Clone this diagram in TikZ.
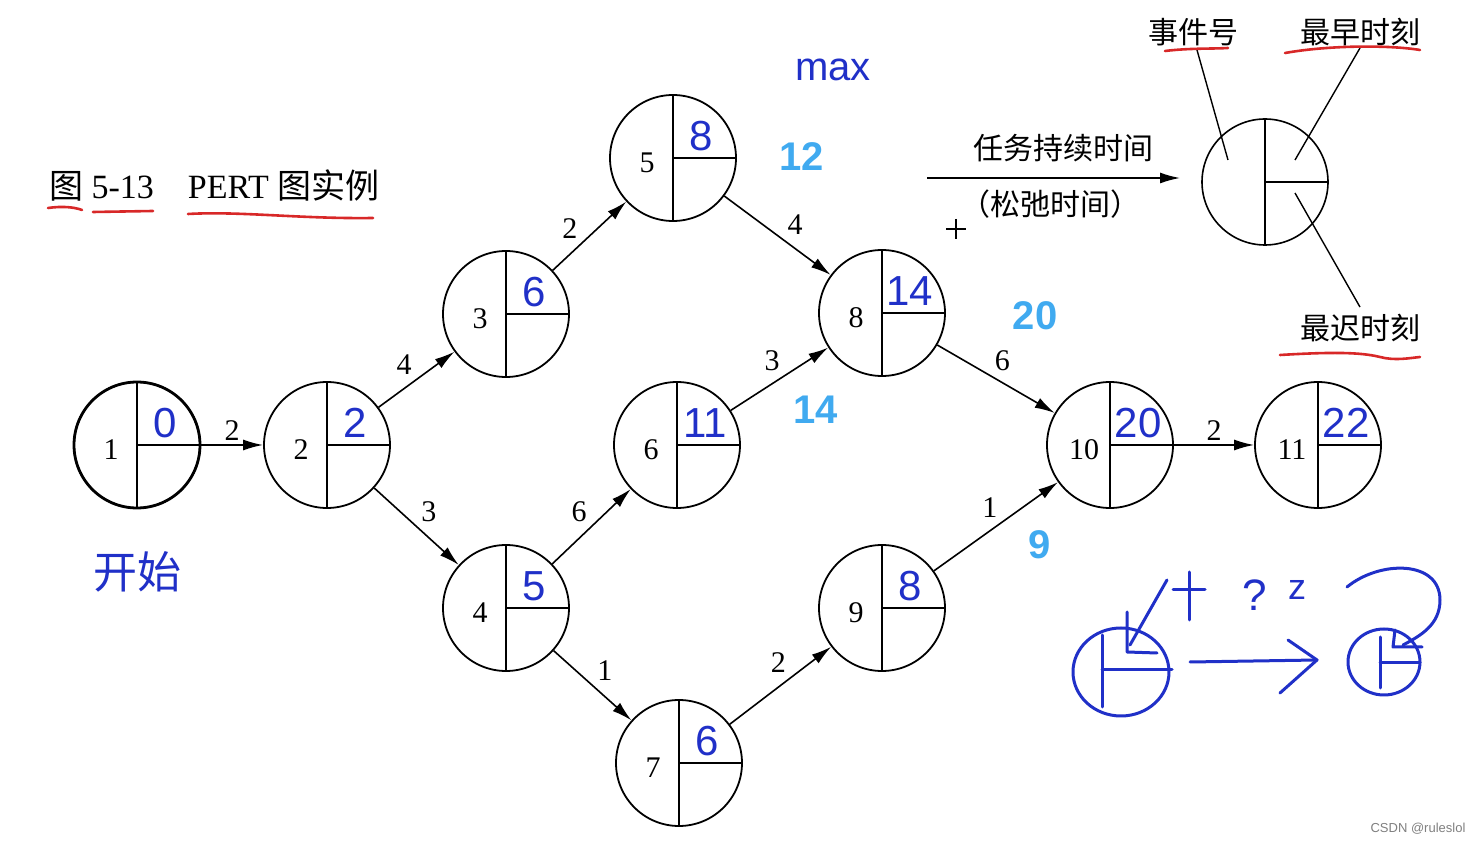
\documentclass[tikz,border=0pt]{standalone}
\usepackage{fontspec}
\setmainfont{Liberation Serif}
\newfontfamily\cjk{Noto Sans CJK SC}
\newfontfamily\handfont{Liberation Sans}
\usetikzlibrary{arrows.meta,calc}
\definecolor{Ink}{HTML}{2030C8}
\definecolor{Sky}{HTML}{40AAF0}
\definecolor{Pen}{HTML}{D82828}

\tikzset{
  evt/.style={circle,draw,line width=.9pt,minimum size=63pt,inner sep=0pt,
    path picture={
      \draw[line width=1.3pt] (path picture bounding box.north) -- (path picture bounding box.south);
      \draw[line width=1.3pt] (path picture bounding box.center) -- (path picture bounding box.east);}},
  evtnum/.style={font=\fontsize{15}{15}\selectfont},
  lbl/.style={font=\fontsize{15}{15}\selectfont,inner sep=2pt},
  arr/.style={line width=.8pt,-{Latex[length=10pt,width=5.5pt]}},
  hand/.style={text=Ink,font=\handfont\fontsize{21}{21}\selectfont},
  skyhand/.style={text=Sky,font=\handfont\bfseries\fontsize{20}{20}\selectfont},
  cn/.style={font=\cjk\fontsize{15}{15}\selectfont},
  redline/.style={Pen,line width=1.3pt,line cap=round},
  inkline/.style={Ink,line width=1.5pt,line cap=round,line join=round}
}

\begin{document}
\begin{tikzpicture}[x=.5pt,y=-.5pt]
    \fill[white] (0,0) rectangle (1480,844);
    \useasboundingbox (0,0) rectangle (1480,844);

    % title
    \node[anchor=west,font=\fontsize{17}{17}\selectfont] (title) at (42,185)
      {{\cjk 图} 5-13\quad PERT {\cjk 图实例}};
    \draw[redline] (48,208) .. controls (62,206) and (74,207) .. (82,210);
    \draw[redline] (93,212) -- (153,211);
    \draw[redline] (188,214) .. controls (240,211) and (300,219) .. (373,218);

    % events
    \foreach \id/\xx/\yy/\est in {1/137/445/0,2/327/445/2,3/506/314/6,4/506/608/5,5/673/158/8,
        6/677/445/11,7/679/763/6,8/882/313/14,9/882/608/8,10/1110/445/20,11/1318/445/22}{
      \node[evt] (n\id) at (\xx,\yy) {};
      \node[evtnum] (num\id) at (\xx-26,\yy+5) {\id};
      \node[hand] (est\id) at (\xx+28,\yy-22) {\est};
    }
    \node[evt,line width=1.4pt] at (n1) {};

    % activities
    \draw[arr] (n1) -- node[lbl,above] {2} (n2);
    \draw[arr] (n2) -- node[lbl,above left] {4} (n3);
    \draw[arr] (n2) -- node[lbl,above right] {3} (n4);
    \draw[arr] (n3) -- node[lbl,above left,pos=.4] {2} (n5);
    \draw[arr] (n5) -- node[lbl,above right,pos=.55] {4} (n8);
    \draw[arr] (n4) -- node[lbl,above left] {6} (n6);
    \draw[arr] (n6) -- node[lbl,above left,pos=.55] {3} (n8);
    \draw[arr] (n4) -- node[lbl,above right] {1} (n7);
    \draw[arr] (n7) -- node[lbl,above left,pos=.6] {2} (n9);
    \draw[arr] (n8) -- node[lbl,above right,pos=.45] {6} (n10);
    \draw[arr] (n9) -- node[lbl,above left,pos=.55] {1} (n10);
    \draw[arr] (n10) -- node[lbl,above] {2} (n11);

    % key
    \coordinate (legA) at (927,178);
    \coordinate (legB) at (1180,178);
    \draw[arr] (legA) -- (legB);
    \node[cn] (dur) at (1063,148) {任务持续时间};
    \node[cn] (slack) at (1050,204) {（松弛时间）};
    \draw[line width=.6pt] (946,229) -- (966,229) (956,219) -- (956,239);

    \node[evt,line width=.8pt] (key) at (1265,182) {};
    \node[cn] (idlbl) at (1193,32) {事件号};
    \node[cn] (eslbl) at (1360,32) {最早时刻};
    \node[cn] (lslbl) at (1360,328) {最迟时刻};
    \coordinate (kid) at (1228,160);
    \coordinate (kes) at (1295,160);
    \coordinate (kls) at (1295,193);
    \draw[line width=.7pt] (1197,50) -- (kid);
    \draw[line width=.7pt] (1360,48) -- (kes);
    \draw[line width=.7pt] (kls) -- (lslbl.north);
    \draw[redline] (1165,51) .. controls (1190,48) and (1210,49) .. (1228,48);
    \draw[redline] (1285,53) .. controls (1330,45) and (1390,45) .. (1420,50);
    \draw[redline] (1280,355) .. controls (1330,352) and (1360,352) .. (1380,357) .. controls (1395,361) and (1410,358) .. (1420,357);

    % notes
    \node[text=Ink,font=\handfont\fontsize{20}{20}\selectfont] (maxnote) at (833,70) {max};
    \node[skyhand] (sk12) at (802,157) {12};
    \node[skyhand] (sk20) at (1035,316) {20};
    \node[skyhand] (sk14) at (816,410) {14};
    \node[skyhand] (sk9) at (1040,545) {9};
    \node[text=Ink,font=\cjk\fontsize{22}{22}\selectfont] (startnote) at (137,572) {开始};

    % sketch
    \draw[inkline] (1121,672) ellipse [x radius=48,y radius=44];
    \draw[inkline] (1102,635) -- (1102,707) (1102,670) -- (1172,670);
    \draw[inkline] (1127,612) -- (1127,652) -- (1157,653);
    \draw[inkline] (1167,580) -- (1130,645);
    \draw[inkline] (1173,590) -- (1205,590) (1189,572) -- (1189,620);
    \node[text=Ink,font=\handfont\fontsize{22}{22}\selectfont] (qmark) at (1255,595) {?};
    \node[text=Ink,font=\handfont\fontsize{18}{18}\selectfont] (zmark) at (1297,590) {z};
    \draw[inkline] (1190,662) -- (1317,660);
    \draw[inkline] (1288,640) -- (1317,660) -- (1280,693);
    \draw[inkline] (1384,662) ellipse [x radius=36,y radius=33];
    \draw[inkline] (1380,637) -- (1380,688) (1380,663) -- (1420,663);
    \draw[inkline] (1395,630) -- (1393,647) -- (1422,647);
    \draw[inkline] (1347,587) .. controls (1380,560) and (1440,560) .. (1440,600) .. controls (1440,625) and (1420,636) .. (1403,645);

    \node[text=gray,font=\handfont\fontsize{6.5}{6.5}\selectfont] (mark) at (1418,829) {CSDN @ruleslol};
\end{tikzpicture}
\end{document}
